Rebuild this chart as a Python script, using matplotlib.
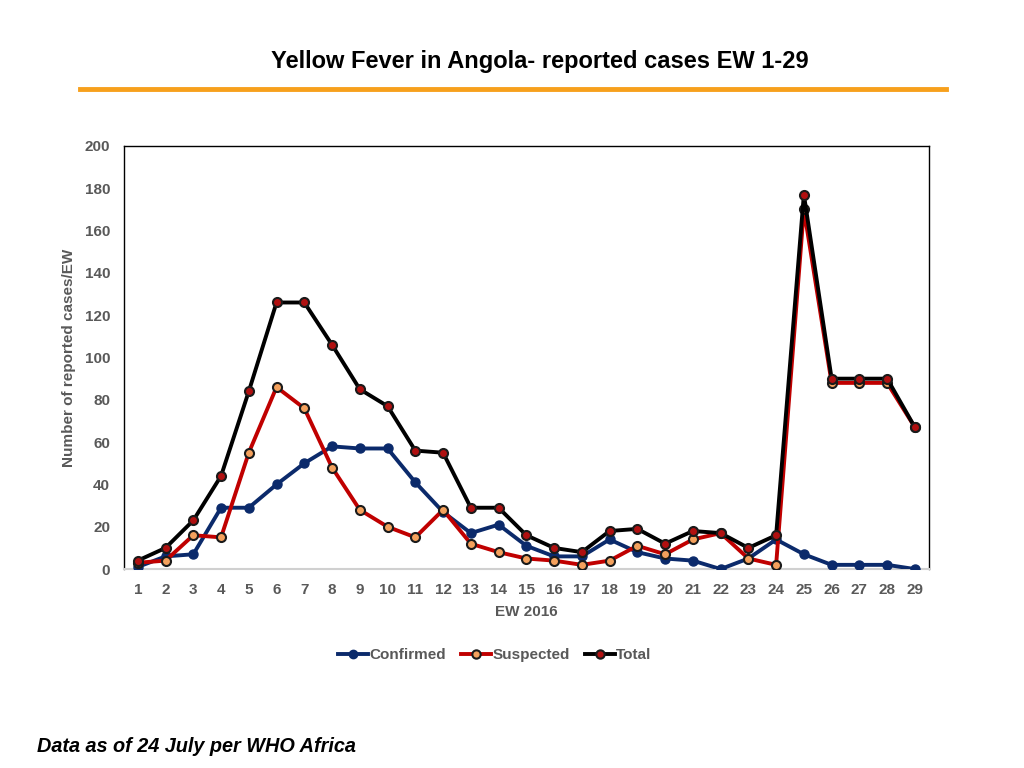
import numpy as np
import matplotlib.pyplot as plt
from matplotlib.lines import Line2D

weeks = list(range(1, 30))
confirmed = [1, 6, 7, 29, 29, 40, 50, 58, 57, 57, 41, 27, 17, 21, 11, 6, 6, 14, 8, 5,
             4, 0, 5, 14, 7, 2, 2, 2, 0]
suspected = [3, 4, 16, 15, 55, 86, 76, 48, 28, 20, 15, 28, 12, 8, 5, 4, 2, 4, 11, 7,
             14, 17, 5, 2, 170, 88, 88, 88, 67]
total = [4, 10, 23, 44, 84, 126, 126, 106, 85, 77, 56, 55, 29, 29, 16, 10, 8, 18, 19, 12,
         18, 17, 10, 16, 177, 90, 90, 90, 67]

gris = '#595959'
plt.rcParams['font.family'] = ['Liberation Sans', 'DejaVu Sans']

fig = plt.figure(figsize=(10.24, 7.68), dpi=100)
ax = fig.add_axes([0.121, 0.259, 0.786, 0.551])

ax.plot(weeks, confirmed, color='#0b2a6b', lw=2.8, marker='o', ms=6.5,
        mfc='#0b2a6b', mec='#0b2a6b', label='Confirmed', zorder=3)
ax.plot(weeks, suspected, color='#c00000', lw=2.8, marker='o', ms=6.5,
        mfc='#f4a15d', mec='#1a1a1a', mew=1.5, label='Suspected', zorder=4)
ax.plot(weeks, total, color='black', lw=2.8, marker='o', ms=6.5,
        mfc='#b01010', mec='#1a1a1a', mew=1.5, label='Total', zorder=5)

ax.set_xlim(0.5, 29.5)
ax.set_ylim(0, 200)
ax.set_xticks(weeks)
ax.set_yticks(range(0, 201, 20))
ax.tick_params(length=0, labelsize=11, labelcolor=gris, pad=10)
for lab in ax.get_xticklabels() + ax.get_yticklabels():
    lab.set_fontweight('bold')
ax.tick_params(axis='y', pad=10)

for s in ['left', 'top', 'right']:
    ax.spines[s].set_color('black')
    ax.spines[s].set_linewidth(1.0)
ax.spines['bottom'].set_color('#d0d0d0')
ax.spines['bottom'].set_linewidth(1.5)

ax.set_xlabel('EW 2016', fontsize=11, fontweight='bold', color=gris, labelpad=6)
ax.set_ylabel('Number of reported cases/EW', fontsize=11, fontweight='bold',
              color=gris, labelpad=6)

handles = [
    Line2D([], [], color='#0b2a6b', lw=2.8, marker='o', ms=6, mfc='#0b2a6b', mec='#0b2a6b'),
    Line2D([], [], color='#c00000', lw=2.8, marker='o', ms=6, mfc='#f4a15d', mec='#1a1a1a', mew=1.5),
    Line2D([], [], color='black', lw=2.8, marker='o', ms=6, mfc='#b01010', mec='#1a1a1a', mew=1.5),
]
leg = fig.legend(handles, ['Confirmed', 'Suspected', 'Total'], loc='center',
                 bbox_to_anchor=(0.483, 0.147), ncol=3, frameon=False,
                 handlelength=2.0, handletextpad=0.05, columnspacing=1.0,
                 prop={'size': 11, 'weight': 'bold'})
for t in leg.get_texts():
    t.set_color(gris)

fig.text(0.527, 0.92, 'Yellow Fever in Angola- reported cases EW 1-29',
         ha='center', va='center', fontsize=17, fontweight='bold')
fig.add_artist(Line2D([0.078, 0.924], [0.884, 0.884], color='#f7a01c', lw=3.5))
fig.text(0.036, 0.028, 'Data as of 24 July per WHO Africa', ha='left', va='center',
         fontsize=14.3, fontweight='bold', style='italic')

fig.savefig('out.png', dpi=100)
